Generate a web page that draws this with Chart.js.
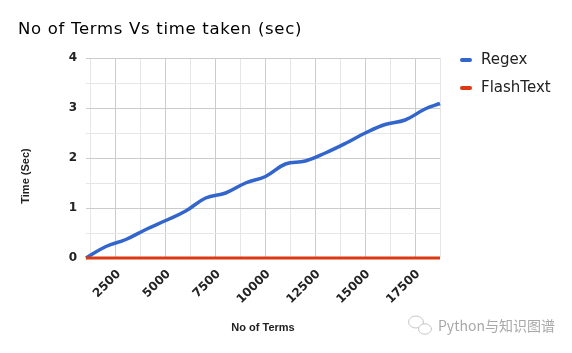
<!DOCTYPE html>
<html>
<head>
<meta charset="utf-8">
<script src="https://cdn.jsdelivr.net/npm/chart.js@4/dist/chart.umd.min.js"></script>
<style>
  body { margin: 0; background: #fff; }
  canvas { display: block; }
</style>
</head>
<body>
<canvas id="terms-chart" width="572" height="353"></canvas>
<script>
// values
const termCounts = [1000, 2000, 3000, 4000, 5000, 6000, 7000, 8000, 9000, 10000,
  11000, 12000, 13000, 14000, 15000, 16000, 17000, 18000, 18750];
const regexTimes = [0, 0.23, 0.37, 0.57, 0.75, 0.94, 1.20, 1.30, 1.50, 1.63,
  1.88, 1.94, 2.10, 2.29, 2.50, 2.67, 2.76, 2.98, 3.09];
const flashTextTimes = [0, 0, 0, 0, 0, 0, 0, 0, 0, 0,
  0, 0, 0, 0, 0, 0, 0, 0, 0];
const seriesNames = ['Regex', 'FlashText'];
const seriesColors = ['#3366cc', '#dc3912'];
const xTickLabels = [2500, 5000, 7500, 10000, 12500, 15000, 17500];
const yTickLabels = [0, 1, 2, 3, 4];

const chartTitle = 'No of Terms Vs time taken (sec)';
const xTitle = 'No of Terms';
const yTitle = 'Time (Sec)';
const watermark = 'Python与知识图谱';

Chart.defaults.font.family = 'DejaVu Sans';
Chart.defaults.color = '#222';

// title, y title, legend and the watermark are drawn here
const extras = {
  id: 'extras',
  beforeDraw(chart) {
    const ctx = chart.ctx;
    ctx.save();
    ctx.fillStyle = '#fff';
    ctx.fillRect(0, 0, chart.width, chart.height);
    ctx.restore();
  },
  afterDraw(chart) {
    const ctx = chart.ctx;
    ctx.save();

    ctx.fillStyle = '#000';
    ctx.font = '16.5px "DejaVu Sans"';
    ctx.letterSpacing = '0.7px';
    ctx.textBaseline = 'alphabetic';
    ctx.fillText(chartTitle, 18, 34);
    ctx.letterSpacing = '0px';

    ctx.save();
    ctx.translate(26, 176);
    ctx.rotate(-Math.PI / 2);
    ctx.font = 'bold 11px "Liberation Sans"';
    ctx.fillStyle = '#222';
    ctx.textAlign = 'center';
    ctx.textBaseline = 'middle';
    ctx.fillText(yTitle, 0, 0);
    ctx.restore();

    // legend
    chart.data.datasets.forEach((ds, i) => {
      const y = 60 + i * 28;
      ctx.strokeStyle = ds.borderColor;
      ctx.lineWidth = 4;
      ctx.lineCap = 'round';
      ctx.beginPath();
      ctx.moveTo(462, y);
      ctx.lineTo(470, y);
      ctx.stroke();
      ctx.fillStyle = '#222';
      ctx.font = '15px "DejaVu Sans"';
      ctx.textBaseline = 'middle';
      ctx.textAlign = 'left';
      ctx.fillText(ds.label, 481, y);
    });

    // watermark
    ctx.strokeStyle = '#c8c8c8';
    ctx.lineWidth = 1;
    ctx.beginPath();
    ctx.ellipse(416, 322, 7.5, 6, 0, 0, Math.PI * 2);
    ctx.stroke();
    ctx.fillStyle = '#fff';
    ctx.beginPath();
    ctx.ellipse(425, 329, 6.5, 5.2, 0, 0, Math.PI * 2);
    ctx.fill();
    ctx.stroke();
    ctx.font = '14px "Noto Sans CJK SC"';
    ctx.fillStyle = '#a8a8a8';
    ctx.textBaseline = 'middle';
    ctx.fillText(watermark, 438, 326);

    ctx.restore();
  }
};

const ctx = document.getElementById('terms-chart');
const chart = new Chart(ctx, {
  type: 'line',
  data: {
    datasets: [{
      label: seriesNames[0],
      data: termCounts.map((t, i) => ({ x: t, y: regexTimes[i] })),
      borderColor: seriesColors[0],
      backgroundColor: seriesColors[0],
      borderWidth: 3.5,
      pointRadius: 0,
      tension: 0.4,
      clip: 4,
      order: 1
    }, {
      label: seriesNames[1],
      data: termCounts.map((t, i) => ({ x: t, y: flashTextTimes[i] })),
      borderColor: seriesColors[1],
      backgroundColor: seriesColors[1],
      borderWidth: 3,
      pointRadius: 0,
      tension: 0.4,
      clip: 4,
      order: 0
    }]
  },
  options: {
    responsive: false,
    animation: false,
    layout: { padding: { left: 0, right: 132, top: 58, bottom: 14 } },
    plugins: {
      legend: { display: false },
      tooltip: { enabled: false }
    },
    scales: {
      x: {
        type: 'linear',
        min: termCounts[0],
        max: termCounts[termCounts.length - 1],
        afterBuildTicks: scale => {
          const ticks = [];
          for (let v = 1250; v <= scale.max; v += 1250) {
            if (v >= scale.min) ticks.push({ value: v });
          }
          scale.ticks = ticks;
        },
        afterFit: scale => { scale.height = 81; },
        border: { display: false },
        grid: {
          drawTicks: false,
          color: c => (c.tick && c.tick.value % 2500 === 0) ? '#cccccc' : '#e6e6e6'
        },
        ticks: {
          autoSkip: false,
          minRotation: 45,
          maxRotation: 45,
          padding: 9,
          labelOffset: 3,
          font: { size: 12, weight: 'bold' },
          callback: v => xTickLabels.includes(v) ? String(v) : ''
        },
        title: {
          display: true,
          text: xTitle,
          font: { family: 'Liberation Sans', size: 11, weight: 'bold' },
          padding: { top: 4, bottom: 4 }
        }
      },
      y: {
        min: 0,
        max: 4,
        afterBuildTicks: scale => {
          const ticks = [];
          for (let v = 0; v <= 4; v += 0.5) ticks.push({ value: v });
          scale.ticks = ticks;
        },
        afterFit: scale => { scale.width = 86; },
        border: { display: false },
        grid: {
          drawTicks: false,
          color: c => Number.isInteger(c.tick.value) ? '#cccccc' : '#e6e6e6'
        },
        ticks: {
          padding: 9,
          font: { size: 12, weight: 'bold' },
          callback: v => yTickLabels.includes(v) ? String(v) : ''
        }
      }
    }
  },
  plugins: [extras]
});
</script>
</body>
</html>
